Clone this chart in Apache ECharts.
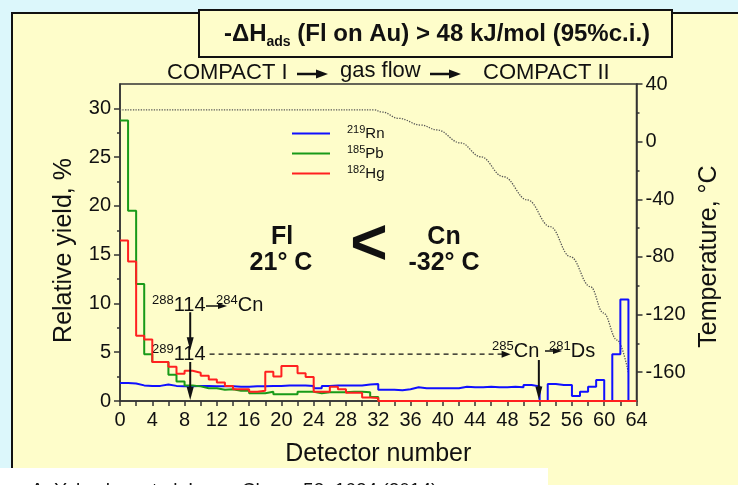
<!DOCTYPE html>
<html>
<head>
<meta charset="utf-8">
<script src="https://cdn.jsdelivr.net/npm/echarts@6/dist/echarts.min.js"></script>
<style>
html, body { margin: 0; padding: 0; background: #dcf7fb; }
#chart { width: 738px; height: 485px; }
</style>
</head>
<body>
<div id="chart"></div>
<script>
// Relative yield per detector (%), one value per detector bin [k, k+1], k = 0..63
const rn219 = [
  1.85, 1.8, 1.6, 1.55, 1.55, 1.7, 1.55, 1.5, 1.5, 1.55, 1.55, 1.5, 1.5, 1.5, 1.45, 1.45,
  1.5, 1.5, 1.55, 1.55, 1.6, 1.6, 1.6, 1.55, 1.3, 1.55, 1.6, 1.6, 1.6, 1.6, 1.7, 1.75,
  1.15, 1.15, 1.1, 1.2, 1.4, 1.3, 1.3, 1.3, 1.3, 1.3, 1.45, 1.4, 1.4, 1.45, 1.4, 1.4,
  1.45, 1.4, 1.65, 1.5, 0, 1.75, 1.65, 1.65, 0.5, 0.95, 1.45, 2.15, 0, 4.8, 10.4, 0
];
const pb185 = [
  28.75, 19.5, 12.0, 4.8, 4.0, 4.0, 2.7, 2.0, 1.6, 1.5, 1.3, 1.3, 1.15, 1.2, 1.05, 1.05,
  0.8, 0.8, 0.95, 0.7, 0.7, 0.7, 0.95, 0.95, 0.8, 0.9, 0.9, 0.9, 0.95, 0.95, 0.9, 0.4,
  0, 0, 0, 0, 0, 0, 0, 0, 0, 0, 0, 0, 0, 0, 0, 0,
  0, 0, 0, 0, 0, 0, 0, 0, 0, 0, 0, 0, 0, 0, 0, 0
];
const hg182 = [
  16.45, 14.3, 6.7, 6.3, 4.0, 4.0, 3.5, 2.8, 3.1, 2.9, 2.6, 2.2, 1.9, 1.55, 1.2, 1.2,
  0.95, 1.05, 3.0, 2.5, 3.6, 3.6, 2.85, 2.45, 0.95, 0.95, 1.45, 1.2, 0.85, 0.85, 0.35, 0.3,
  0, 0, 0, 0, 0, 0, 0, 0, 0, 0, 0, 0, 0, 0, 0, 0,
  0, 0, 0, 0, 0, 0, 0, 0, 0, 0, 0, 0, 0, 0, 0, 0
];

// Temperature profile along the detector array (°C)
const tempDetector = [0, 8, 16, 24, 31.5, 32.5, 34.5, 37.3, 39.3, 42.2, 44.7, 47.5, 50.5, 53.3, 55.8, 58.3, 59.9, 61.6, 63];
const tempCelsius  = [22, 22, 22, 22, 22, 20.5, 16.2, 11.5, 8.1, -0.9, -10.5, -24.3, -40.5, -59, -79.8, -100.7, -118.9, -137.7, -160.5];

// Axis ticks
const yieldMajorTicks = [0, 5, 10, 15, 20, 25, 30];
const yieldMinorTicks = [2.5, 7.5, 12.5, 17.5, 22.5, 27.5];
const tempMajorTicks = [-160, -120, -80, -40, 0, 40];
const tempMinorTicks = [-140, -100, -60, -20, 20];

// Decay-chain arrows: [x1, y1, x2, y2, dashed]
const decayArrows = [
  [8.7, 9.1, 8.7, 5.2, 0],
  [8.7, 4.0, 8.7, 0.1, 0],
  [51.9, 4.2, 51.9, 0.15, 0],
  [11.1, 4.8, 48.4, 4.8, 1]
];

const seriesNames = ['219Rn', '185Pb', '182Hg'];
const seriesColors = ['#1010ff', '#189a18', '#ff2020'];

function stepPoints(vals) {
  const pts = vals.map((v, k) => [k, v]);
  pts.push([vals.length, vals[vals.length - 1]]);
  return pts;
}

const FONT = '"Liberation Sans", Arial, Helvetica, sans-serif';
const BG = '#fefdca';

function arrowShapes(x1, y, x2, head, halfW, lw) {
  return [
    { type: 'line', shape: { x1: x1, y1: y, x2: x2 - head + 1, y2: y }, style: { stroke: '#111', lineWidth: lw } },
    { type: 'polygon', shape: { points: [[x2 - head, y - halfW], [x2, y], [x2 - head, y + halfW]] }, style: { fill: '#111' } }
  ];
}

function richText(x, y, text, rich, align) {
  return {
    type: 'text', x: x, y: y,
    style: {
      text: text, rich: rich, font: '20px ' + FONT, fill: '#111',
      align: align || 'left', textAlign: align || 'left',
      verticalAlign: 'middle', textVerticalAlign: 'middle'
    }
  };
}

const isoRich = {
  s: { fontSize: 13, fontFamily: FONT, color: '#111', padding: [0, 0, 9, 0], lineHeight: 24 },
  n: { fontSize: 20, fontFamily: FONT, color: '#111', lineHeight: 24 }
};
const boldRich = {
  b: { fontSize: 25, fontWeight: 'bold', fontFamily: FONT, color: '#111', lineHeight: 31 }
};
const flowRich = { t: { fontSize: 22, fontFamily: FONT, color: '#111' } };

const chart = echarts.init(document.getElementById('chart'), null, { renderer: 'canvas' });

const graphics = [
  // panel
  { type: 'rect', z: -100, silent: true, shape: { x: 12, y: 13, width: 760, height: 500 },
    style: { fill: BG, stroke: '#111', lineWidth: 2 } },
  // heading box
  { type: 'rect', z: -90, shape: { x: 199, y: 10, width: 473, height: 47 },
    style: { fill: BG, stroke: '#111', lineWidth: 2 } },
  richText(437, 34, '{b|-ΔH}{sub|ads}{b| (Fl on Au) > 48 kJ/mol (95%c.i.)}', {
    b: { fontSize: 24, fontWeight: 'bold', fontFamily: FONT, color: '#111', lineHeight: 28 },
    sub: { fontSize: 14, fontWeight: 'bold', fontFamily: FONT, color: '#111', padding: [16, 0, 0, 0], lineHeight: 28 }
  }, 'center'),
  // gas flow direction
  richText(167, 73, '{t|COMPACT I}', flowRich),
  ...arrowShapes(297, 74, 328, 12, 4.5, 2.5),
  richText(340, 71, '{t|gas flow}', flowRich),
  ...arrowShapes(430, 74, 461, 12, 4.5, 2.5),
  richText(483, 73, '{t|COMPACT II}', flowRich),
  // adsorption temperatures
  richText(282, 237, '{b|Fl}', boldRich, 'center'),
  richText(281, 263, '{b|21° C}', boldRich, 'center'),
  richText(369, 246, '{b|<}', { b: { fontSize: 64, fontWeight: 'bold', fontFamily: FONT, color: '#111' } }, 'center'),
  richText(444, 237, '{b|Cn}', boldRich, 'center'),
  richText(444, 263, '{b|-32° C}', boldRich, 'center'),
  // decay chains
  richText(152, 305, '{s|288}{n|114}', isoRich),
  ...arrowShapes(206, 306, 227, 9, 3, 1.5),
  richText(216, 305, '{s|284}{n|Cn}', isoRich),
  richText(152, 354, '{s|289}{n|114}', isoRich),
  richText(492, 351, '{s|285}{n|Cn}', isoRich),
  ...arrowShapes(545, 351, 562, 9, 3, 1.5),
  richText(549, 351, '{s|281}{n|Ds}', isoRich),
  // reference strip
  { type: 'rect', z: 50, shape: { x: 0, y: 468, width: 548, height: 20 }, style: { fill: '#ffffff' } },
  { type: 'text', z: 51, x: 31, y: 481,
    style: { text: 'A. Yakushev et al. Inorg. Chem. 53, 1624 (2014)', font: '19px ' + FONT, fill: '#111',
             verticalAlign: 'top', textVerticalAlign: 'top' } }
];

const axisLineStyle = { color: '#333', width: 1.5 };
const tickLabel = { fontSize: 20, fontFamily: FONT, color: '#111' };
const nameStyle = { fontSize: 25, fontFamily: FONT, color: '#111' };

const option = {
  animation: false,
  backgroundColor: '#dcf7fb',
  textStyle: { fontFamily: FONT },
  graphic: { elements: graphics },
  grid: { left: 120, right: 101.5, top: 84, bottom: 84, show: true, borderColor: '#333', borderWidth: 1.5, backgroundColor: 'transparent' },
  legend: {
    data: seriesNames,
    orient: 'vertical',
    left: 287, top: 119,
    icon: 'rect',
    itemWidth: 38, itemHeight: 2, itemGap: 1,
    formatter: name => '{s|' + name.slice(0, 3) + '}{e|' + name.slice(3) + '}',
    textStyle: {
      rich: {
        s: { fontSize: 11, fontFamily: FONT, color: '#111', padding: [0, 0, 8, 12], lineHeight: 19 },
        e: { fontSize: 15, fontFamily: FONT, color: '#111', lineHeight: 19 }
      }
    }
  },
  xAxis: {
    type: 'value', min: 0, max: 64, interval: 4,
    name: 'Detector number', nameLocation: 'middle', nameGap: 41, nameTextStyle: nameStyle,
    axisLine: { lineStyle: axisLineStyle },
    axisTick: { length: 5, lineStyle: axisLineStyle },
    minorTick: { show: true, splitNumber: 2, length: 5, lineStyle: axisLineStyle },
    splitLine: { show: false },
    axisLabel: Object.assign({ margin: 9 }, tickLabel)
  },
  yAxis: [
    {
      type: 'value', position: 'left', min: 0, max: 32.5,
      name: 'Relative yield, %', nameLocation: 'middle', nameGap: 43,
      nameTextStyle: Object.assign({ padding: [0, 16, 0, 0] }, nameStyle),
      axisLine: { show: true, lineStyle: axisLineStyle },
      axisTick: { show: true, length: 6, customValues: yieldMajorTicks, lineStyle: axisLineStyle },
      axisLabel: Object.assign({ margin: 9, customValues: yieldMajorTicks }, tickLabel),
      splitLine: { show: false }
    },
    {
      type: 'value', position: 'right', min: -180, max: 40,
      name: 'Temperature, °C', nameLocation: 'middle', nameGap: 58, nameRotate: 90,
      nameTextStyle: Object.assign({ padding: [0, 28, 0, 0] }, nameStyle),
      axisLine: { show: true, lineStyle: axisLineStyle },
      axisTick: { show: true, length: 6, customValues: tempMajorTicks, lineStyle: axisLineStyle },
      axisLabel: Object.assign({ margin: 9, customValues: tempMajorTicks }, tickLabel),
      splitLine: { show: false }
    },
    {
      type: 'value', position: 'left', min: 0, max: 32.5,
      axisLine: { show: false },
      axisTick: { show: true, length: 3, customValues: yieldMinorTicks, lineStyle: axisLineStyle },
      axisLabel: { show: false },
      splitLine: { show: false }
    },
    {
      type: 'value', position: 'right', min: -180, max: 40,
      axisLine: { show: false },
      axisTick: { show: true, length: 3, customValues: tempMinorTicks, lineStyle: axisLineStyle },
      axisLabel: { show: false },
      splitLine: { show: false }
    }
  ],
  series: [
    {
      name: 'temperature', type: 'line', yAxisIndex: 1, data: tempDetector.map((d, i) => [d, tempCelsius[i]]),
      smooth: 0.4, smoothMonotone: 'x', symbol: 'none', silent: true,
      lineStyle: { color: '#555', width: 1.3, type: 'dotted' }, z: 1
    },
    ...[rn219, pb185, hg182].map((vals, i) => ({
      name: seriesNames[i], type: 'line', step: 'end', symbol: 'none',
      data: stepPoints(vals),
      color: seriesColors[i],
      lineStyle: { color: seriesColors[i], width: 2 },
      z: 3 + i
    })),
    {
      name: 'decay', type: 'custom', silent: true, z: 10,
      data: decayArrows,
      encode: { x: [0, 2], y: [1, 3] },
      renderItem: (params, api) => {
        const p1 = api.coord([api.value(0), api.value(1)]);
        const p2 = api.coord([api.value(2), api.value(3)]);
        const dashed = api.value(4) === 1;
        const dx = p2[0] - p1[0], dy = p2[1] - p1[1];
        const len = Math.sqrt(dx * dx + dy * dy);
        const ux = dx / len, uy = dy / len;
        const head = dashed ? 9 : 13, halfW = 3.5;
        const bx = p2[0] - ux * head, by = p2[1] - uy * head;
        return {
          type: 'group',
          children: [
            { type: 'line', shape: { x1: p1[0], y1: p1[1], x2: bx + ux, y2: by + uy },
              style: { stroke: '#111', lineWidth: dashed ? 1.3 : 2, lineDash: dashed ? [5, 4] : null } },
            { type: 'polygon', shape: { points: [[bx - uy * halfW, by + ux * halfW], [p2[0], p2[1]], [bx + uy * halfW, by - ux * halfW]] },
              style: { fill: '#111' } }
          ]
        };
      }
    }
  ]
};

chart.setOption(option);
</script>
</body>
</html>
